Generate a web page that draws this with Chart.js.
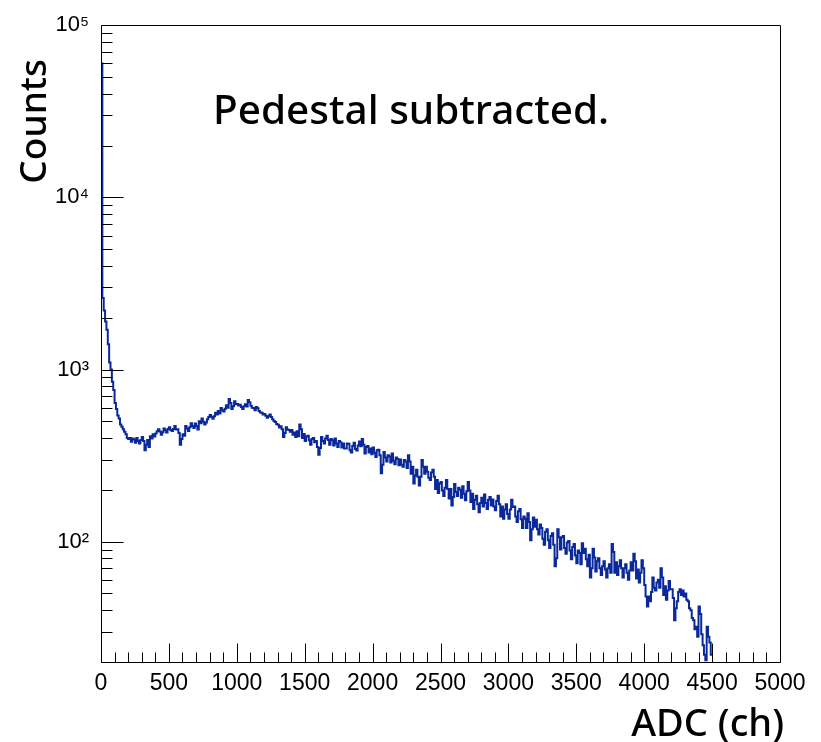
<!DOCTYPE html>
<html>
<head>
<meta charset="utf-8">
<style>
html,body{margin:0;padding:0;background:#fff;}
#wrap{width:821px;height:742px;position:relative;}
</style>
<script src="https://cdn.jsdelivr.net/npm/chart.js@4.4.1/dist/chart.umd.min.js"></script>
</head>
<body>
<div id="wrap"><canvas id="c"></canvas></div>
<script>
// ---- data ----
const binWidth = 10; // ADC channels per bin, bins start at 0
const counts = [
  60000, 2600, 2200, 1900, 1700, 1400, 1100, 1000, 850, 760, 640, 590, 540, 520, 480, 465, 450, 435, 420, 400,
  395, 400, 380, 398, 392, 375, 400, 385, 372, 390, 405, 385, 340, 365, 390, 355, 410, 398, 420, 408,
  425, 438, 450, 436, 418, 432, 455, 444, 430, 452, 462, 446, 440, 452, 470, 448, 450, 428, 365, 395,
  420, 412, 470, 455, 440, 462, 488, 470, 458, 485, 470, 448, 500, 488, 520, 498, 480, 492, 515, 530,
  545, 532, 518, 535, 560, 548, 575, 555, 598, 580, 570, 592, 620, 600, 675, 640, 590, 612, 655, 628,
  630, 618, 625, 605, 590, 612, 628, 610, 665, 645, 615, 600, 598, 580, 605, 595, 575, 562, 560, 548,
  552, 538, 525, 536, 548, 530, 515, 502, 495, 482, 478, 460, 468, 450, 405, 428, 462, 448, 445, 435,
  445, 418, 430, 405, 438, 410, 480, 450, 400, 422, 385, 408, 412, 388, 365, 395, 400, 378, 385, 355,
  320, 350, 405, 385, 372, 398, 412, 390, 365, 395, 388, 362, 398, 372, 355, 385, 378, 352, 372, 348,
  348, 372, 370, 340, 330, 360, 375, 345, 338, 362, 382, 358, 395, 365, 325, 355, 360, 330, 348, 322,
  352, 328, 310, 340, 342, 318, 250, 280, 332, 308, 292, 318, 312, 288, 325, 295, 282, 308, 302, 278,
  300, 280, 272, 298, 292, 268, 318, 292, 248, 272, 218, 242, 262, 238, 212, 238, 298, 272, 248, 272,
  255, 235, 228, 252, 262, 238, 202, 228, 192, 218, 222, 198, 184, 206, 228, 202, 178, 202, 162, 182,
  216, 194, 184, 206, 200, 180, 210, 190, 174, 196, 222, 198, 170, 190, 155, 175, 185, 165, 148, 168,
  180, 160, 188, 168, 155, 175, 182, 162, 176, 160, 152, 172, 185, 165, 140, 160, 136, 154, 165, 145,
  136, 154, 175, 159, 160, 140, 130, 150, 155, 135, 120, 140, 136, 120, 146, 130, 102, 118, 138, 122,
  134, 118, 110, 126, 120, 104, 96, 114, 118, 102, 92, 108, 112, 96, 72, 80, 118, 106, 90, 106,
  108, 92, 85, 99, 101, 89, 79, 93, 97, 83, 75, 89, 86, 74, 98, 86, 91, 79, 72, 84,
  62, 70, 91, 81, 67, 77, 80, 70, 64, 72, 77, 69, 62, 70, 74, 66, 97, 87, 66, 76,
  64, 72, 78, 70, 62, 70, 74, 66, 60, 68, 76, 68, 85, 77, 61, 69, 58, 66, 78, 70,
  56, 48, 42, 48, 45, 51, 62, 54, 52, 58, 60, 54, 70, 62, 49, 55, 46, 52, 59, 53,
  53, 47, 35, 41, 45, 51, 53, 49, 52, 48, 50, 46, 45, 41, 40, 36, 35, 31, 32, 28,
  42, 38, 29, 25, 22, 20.5, 32, 28, 26, 22
];
const xRange = [0, 5000];
const yRange = [20, 100000];
const xTickValues = [0, 500, 1000, 1500, 2000, 2500, 3000, 3500, 4000, 4500, 5000];
const xTickLabels = ['0', '500', '1000', '1500', '2000', '2500', '3000', '3500', '4000', '4500', '5000'];
const xMinorStep = 100;
const yTickValues = [100, 1000, 10000, 100000];
const yTickLabels = ['10\u00B2', '10\u00B3', '10\u2074', '10\u2075'];
const annotationText = 'Pedestal subtracted.';
const xTitle = 'ADC (ch)';
const yTitle = 'Counts';

// ---- build histogram outline points from the bins ----
const points = counts.map((c, i) => ({ x: i * binWidth, y: c }));
points.push({ x: counts.length * binWidth, y: counts[counts.length - 1] });

const lineColor = '#0a2899';
const textFont = '"Noto Sans", "Open Sans", sans-serif';

const rootFrame = {
  id: 'rootFrame',
  afterDatasetsDraw(chart) {
    const { ctx, chartArea: a, scales } = chart;
    const xs = scales.x, ys = scales.y;
    ctx.save();
    ctx.strokeStyle = '#000';
    ctx.lineWidth = 1;
    ctx.beginPath();
    const L = Math.round(a.left) + 0.5, R = Math.round(a.right) + 0.5;
    const T = Math.round(a.top) + 0.5, B = Math.round(a.bottom) + 0.5;
    ctx.rect(L, T, R - L, B - T);
    for (let v = xRange[0]; v <= xRange[1]; v += xMinorStep) {
      const px = Math.round(xs.getPixelForValue(v)) + 0.5;
      const len = (v % 500 === 0) ? 19 : 10;
      ctx.moveTo(px, B);
      ctx.lineTo(px, B - len);
    }
    for (let k = 1; k <= 5; k++) {
      for (let m = 1; m <= 9; m++) {
        const v = m * Math.pow(10, k);
        if (v < yRange[0] || v > yRange[1]) continue;
        const py = Math.round(ys.getPixelForValue(v)) + 0.5;
        const len = (m === 1) ? 22 : 11;
        ctx.moveTo(L, py);
        ctx.lineTo(L + len, py);
      }
    }
    ctx.stroke();

    ctx.fillStyle = '#000';
    ctx.textBaseline = 'alphabetic';
    ctx.font = '500 40.5px ' + textFont;
    ctx.textAlign = 'left';
    ctx.fillText(annotationText, 213, 124);
    ctx.font = '500 38px ' + textFont;
    ctx.textAlign = 'right';
    ctx.fillText(xTitle, 784, 736);
    ctx.save();
    ctx.translate(46, 59);
    ctx.rotate(-Math.PI / 2);
    ctx.textAlign = 'right';
    ctx.font = '500 37px ' + textFont;
    ctx.fillText(yTitle, 0, 0);
    ctx.restore();
    ctx.restore();
  }
};

new Chart(document.getElementById('c'), {
  type: 'line',
  data: {
    datasets: [{
      data: points,
      stepped: true,
      borderColor: lineColor,
      borderWidth: 2,
      pointRadius: 0,
      fill: false,
      tension: 0
    }]
  },
  options: {
    responsive: true,
    maintainAspectRatio: false,
    animation: false,
    events: [],
    layout: { padding: { left: 0, right: 41, top: 19, bottom: 0 } },
    plugins: { legend: { display: false }, tooltip: { enabled: false } },
    scales: {
      x: {
        type: 'linear',
        min: xRange[0], max: xRange[1],
        grid: { display: false, drawTicks: false },
        border: { display: false },
        afterBuildTicks: s => { s.ticks = xTickValues.map(v => ({ value: v })); },
        ticks: {
          autoSkip: false, maxRotation: 0,
          callback: v => xTickLabels[xTickValues.indexOf(v)],
          font: { family: 'Liberation Sans', size: 23 },
          color: '#000',
          padding: 8
        },
        afterFit: s => { s.height = 80; }
      },
      y: {
        type: 'logarithmic',
        min: yRange[0], max: yRange[1],
        grid: { display: false, drawTicks: false },
        border: { display: false },
        afterBuildTicks: s => { s.ticks = yTickValues.map(v => ({ value: v })); },
        ticks: {
          autoSkip: false,
          callback: v => yTickLabels[yTickValues.indexOf(v)],
          font: { family: 'Liberation Sans', size: 22 },
          color: '#000',
          padding: 12
        },
        afterFit: s => { s.width = 101; }
      }
    }
  },
  plugins: [rootFrame]
});
</script>
</body>
</html>
